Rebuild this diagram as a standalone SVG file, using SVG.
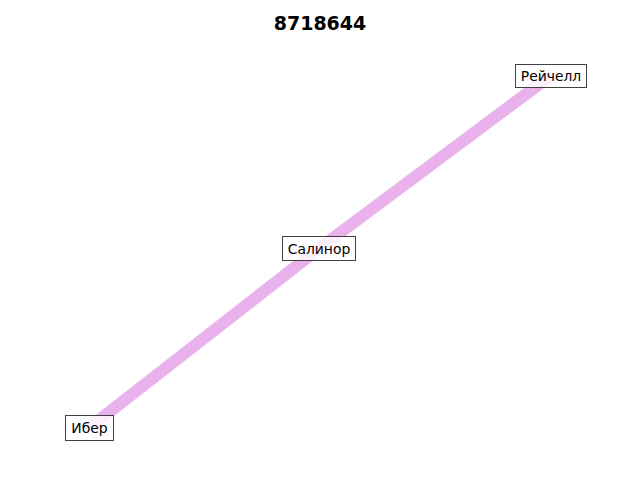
<svg xmlns="http://www.w3.org/2000/svg" width="640" height="480" viewBox="0 0 640 480">
<style>
.edge{stroke:#eab2ec;stroke-width:12;fill:none;stroke-linecap:butt}
.box{fill:#ffffff;fill-opacity:0.8;stroke:#404040;stroke-width:1}
.lbl{font-family:"DejaVu Sans",sans-serif;font-size:13.9px;fill:#000;text-anchor:middle}
.title{font-family:"DejaVu Sans",sans-serif;font-size:19px;font-weight:bold;fill:#000;text-anchor:middle}
</style>
<rect width="640" height="480" fill="#ffffff"/>
<text class="title" x="320" y="30">8718644</text>
<g id="connectors">
<path class="edge" d="M89.5,427.5 L319,248.5"/>
<path class="edge" d="M319,248.5 L551,75.5"/>
</g>
<g id="node-iber">
<rect class="box" x="65.5" y="415.5" width="48" height="25"/>
<text class="lbl" x="89.5" y="432.5">Ибер</text>
</g>
<g id="node-salinor">
<rect class="box" x="282.5" y="236.5" width="73" height="24"/>
<text class="lbl" x="319" y="253.5">Салинор</text>
</g>
<g id="node-reichell">
<rect class="box" x="515.5" y="64.5" width="71" height="23"/>
<text class="lbl" x="551" y="80.5">Рейчелл</text>
</g>
</svg>
